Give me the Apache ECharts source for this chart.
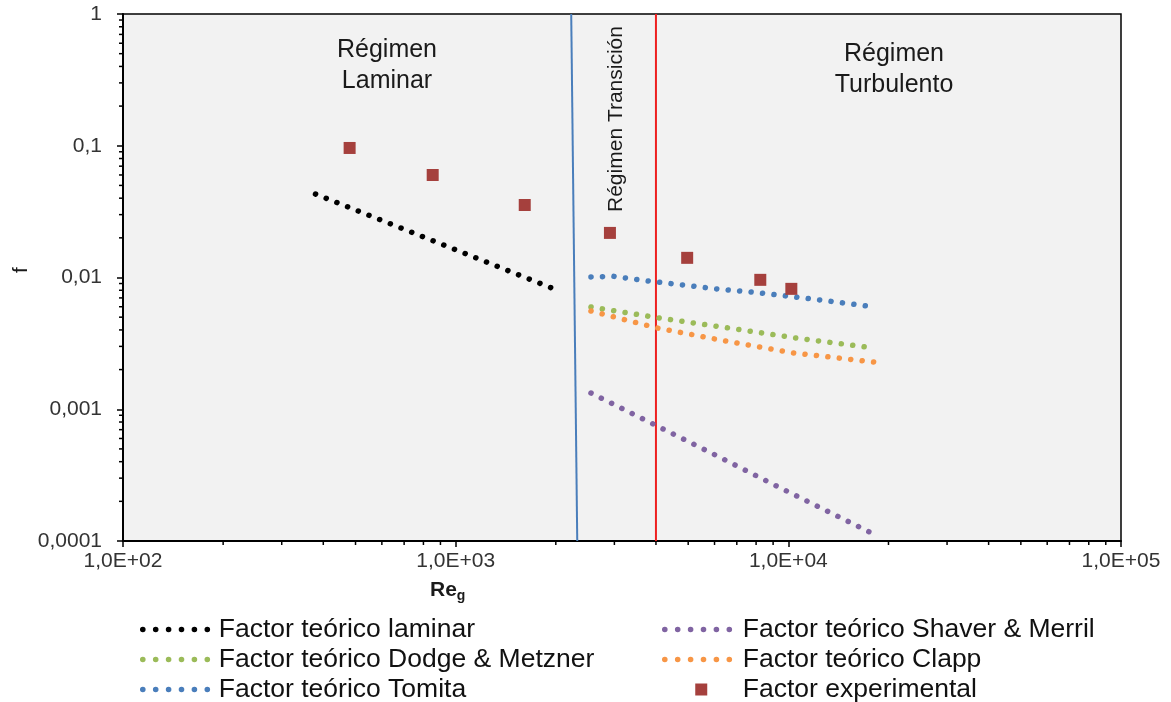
<!DOCTYPE html>
<html>
<head>
<meta charset="utf-8">
<script src="https://cdn.jsdelivr.net/npm/echarts/dist/echarts.min.js"></script>
<style>
  html, body { margin: 0; padding: 0; background: #fff; }
  #chart { width: 1171px; height: 702px; }
</style>
</head>
<body>
<div id="chart"></div>
<script>
// datos
var laminarRe = [379, 801, 1973];
var laminarF = [0.043, 0.0203, 0.0082];
var shaverRe = [2551, 3921, 6026, 9200, 17540];
var shaverF = [0.001328, 0.000773, 0.00045, 0.000262, 0.000117];
var dodgeRe = [2551, 4087, 6597, 10570, 17060];
var dodgeF = [0.00597, 0.00493, 0.00414, 0.00347, 0.00297];
var clappRe = [2551, 4030, 6460, 10425, 18160];
var clappF = [0.00557, 0.00414, 0.0033, 0.00267, 0.00228];
var tomitaRe = [2551, 2991, 3787, 4828, 6110, 7738, 9863, 12485, 17170];
var tomitaF = [0.0101, 0.0102, 0.0094, 0.00877, 0.00818, 0.00776, 0.00724, 0.00675, 0.00608];
var expRe = [480, 853, 1613, 2909, 4965, 8236, 10210];
var expF = [0.0962, 0.06, 0.0355, 0.0218, 0.0141, 0.0096, 0.0082];

// limites de regimen
var limLamRe = [2225, 2320];
var limLamF = [1, 0.0001];
var limTurbRe = [4000, 4000];
var limTurbF = [1, 0.0001];

// marcas menores de los ejes log
var minorX = [];
var minorY = [];
[100, 1000, 10000].forEach(function (d) {
  for (var k = 2; k <= 9; k++) minorX.push(k * d);
});
[0.0001, 0.001, 0.01, 0.1].forEach(function (d) {
  for (var k = 2; k <= 9; k++) minorY.push(+(k * d).toPrecision(3));
});

var names = [
  "Factor teórico laminar",
  "Factor teórico Shaver & Merril",
  "Factor teórico Dodge & Metzner",
  "Factor teórico Clapp",
  "Factor teórico Tomita",
  "Factor experimental"
];

function zip(a, b) {
  return a.map(function (v, i) { return [v, b[i]]; });
}

var font = 'Arial, "Liberation Sans", sans-serif';
var dots = [0.1, 11.4];

function dotted(name, re, f, color) {
  return {
    name: name,
    type: "line",
    data: zip(re, f),
    showSymbol: false,
    symbol: "none",
    lineStyle: { color: color, width: 5.5, type: dots, cap: "round" },
    itemStyle: { color: color },
    z: 3
  };
}

function lineItem(name) {
  return { name: name, itemStyle: { opacity: 0 } };
}

var legendText = { fontSize: 26.5, color: "#111", lineHeight: 26, fontFamily: font };
var legendLine = { width: 5.5, type: [0.1, 12.8], cap: "round" };

var myChart = echarts.init(document.getElementById("chart"));

var option = {
  animation: false,
  backgroundColor: "#fff",
  textStyle: { fontFamily: font },
  grid: {
    left: 123, right: 50, top: 14, bottom: 161,
    show: true, backgroundColor: "#F2F2F2",
    borderColor: "#000", borderWidth: 1.5
  },
  legend: [
    {
      orient: "vertical", left: 135, top: 611, height: 120,
      itemWidth: 71, itemHeight: 12, itemGap: 3,
      data: [lineItem(names[0]), lineItem(names[2]), lineItem(names[4])],
      lineStyle: legendLine,
      textStyle: legendText
    },
    {
      orient: "vertical", left: 657, top: 611, height: 120,
      itemWidth: 73, itemHeight: 12, itemGap: 3,
      data: [lineItem(names[1]), lineItem(names[3]),
        { name: names[5], icon: "path://M0,0L10,0L10,10L0,10Z" }],
      lineStyle: legendLine,
      textStyle: legendText
    }
  ],
  xAxis: {
    type: "log", logBase: 10, min: 100, max: 100000,
    axisLine: { show: true, lineStyle: { color: "#000", width: 2 } },
    axisTick: { show: true, inside: false, length: 6, lineStyle: { color: "#000", width: 1.5 } },
    splitLine: { show: false },
    axisLabel: {
      fontSize: 21, color: "#333", margin: 10, fontFamily: font,
      formatter: function (v) {
        var e = Math.round(Math.log10(v));
        return "1,0E+" + (e < 10 ? "0" : "") + e;
      }
    }
  },
  yAxis: {
    type: "log", logBase: 10, min: 0.0001, max: 1,
    axisLine: { show: true, lineStyle: { color: "#000", width: 2 } },
    axisTick: { show: true, inside: false, length: 6, lineStyle: { color: "#000", width: 1.5 } },
    splitLine: { show: false },
    axisLabel: {
      fontSize: 21, color: "#333", margin: 21, fontFamily: font,
      formatter: function (v) {
        return String(Number(v.toPrecision(4))).replace(".", ",");
      }
    }
  },
  graphic: [
    {
      type: "text", x: 387, y: 66, z: 10,
      style: { text: "Régimen\nLaminar", align: "center", verticalAlign: "middle", fontSize: 25, lineHeight: 31, fill: "#1a1a1a", fontFamily: font }
    },
    {
      type: "text", x: 894, y: 70, z: 10,
      style: { text: "Régimen\nTurbulento", align: "center", verticalAlign: "middle", fontSize: 25, lineHeight: 31, fill: "#1a1a1a", fontFamily: font }
    },
    {
      type: "text", x: 616, y: 119, rotation: Math.PI / 2, z: 10,
      style: { text: "Régimen Transición", align: "center", verticalAlign: "middle", fontSize: 21, fill: "#1a1a1a", fontFamily: font }
    },
    {
      type: "text", x: 21, y: 270, rotation: Math.PI / 2, z: 10,
      style: { text: "f", align: "center", verticalAlign: "middle", fontSize: 21, fill: "#1a1a1a", fontFamily: font }
    },
    {
      type: "text", x: 430, y: 577, z: 10,
      style: {
        text: "{a|Re}{b|g}",
        rich: {
          a: { fontSize: 21, fontWeight: "bold", fill: "#1a1a1a", fontFamily: font },
          b: { fontSize: 14, fontWeight: "bold", fill: "#1a1a1a", fontFamily: font, padding: [12, 0, 0, 0] }
        }
      }
    }
  ],
  series: [
    {
      name: "limLam", type: "line", data: zip(limLamRe, limLamF),
      showSymbol: false, symbol: "none", silent: true,
      lineStyle: { color: "#4A7EBB", width: 2 }, z: 2
    },
    {
      name: "limTurb", type: "line", data: zip(limTurbRe, limTurbF),
      showSymbol: false, symbol: "none", silent: true,
      lineStyle: { color: "#EE2020", width: 2 }, z: 2
    },
    dotted(names[0], laminarRe, laminarF, "#000000"),
    dotted(names[1], shaverRe, shaverF, "#8064A2"),
    dotted(names[2], dodgeRe, dodgeF, "#9BBB59"),
    dotted(names[3], clappRe, clappF, "#F79646"),
    dotted(names[4], tomitaRe, tomitaF, "#4A7EBB"),
    {
      name: names[5], type: "scatter", data: zip(expRe, expF),
      symbol: "rect", symbolSize: 12,
      itemStyle: { color: "#A5403D", opacity: 1 }, z: 4
    },
    {
      type: "custom", silent: true, clip: false, z: 5,
      data: minorX,
      renderItem: function (params, api) {
        var p = api.coord([api.value(0), 0.0001]);
        return { type: "line", shape: { x1: p[0], y1: p[1], x2: p[0], y2: p[1] + 4 }, style: { stroke: "#000", lineWidth: 1.5 } };
      }
    },
    {
      type: "custom", silent: true, clip: false, z: 5,
      data: minorY,
      renderItem: function (params, api) {
        var p = api.coord([100, api.value(0)]);
        return { type: "line", shape: { x1: p[0] - 4, y1: p[1], x2: p[0], y2: p[1] }, style: { stroke: "#000", lineWidth: 1.5 } };
      }
    }
  ]
};

myChart.setOption(option);
</script>
</body>
</html>
